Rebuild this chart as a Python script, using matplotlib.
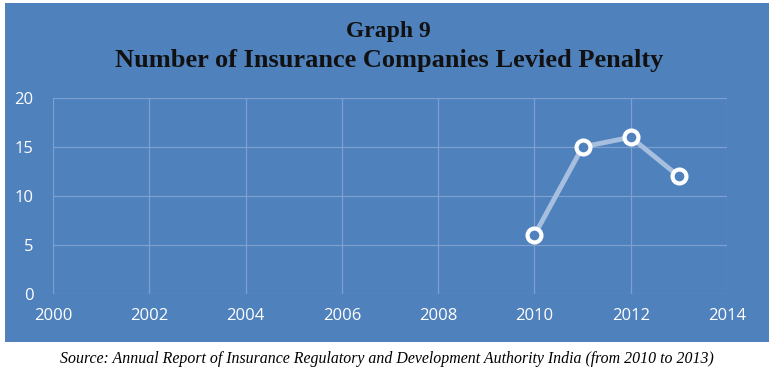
import matplotlib.pyplot as plt
from matplotlib.patches import Rectangle

years = [2010, 2011, 2012, 2013]
companies = [6, 15, 16, 12]
x_ticks = [2000, 2002, 2004, 2006, 2008, 2010, 2012, 2014]
y_ticks = [0, 5, 10, 15, 20]

blue = '#4f81bd'
W, H = 774, 376

fig = plt.figure(figsize=(W / 100, H / 100), dpi=100)
fig.patch.set_facecolor('white')

# blue chart box behind everything
box = Rectangle((5 / W, 1 - 342 / H), 764 / W, 339 / H,
                transform=fig.transFigure, facecolor=blue,
                edgecolor='none', zorder=-5)
fig.add_artist(box)

ax = fig.add_axes([53 / W, 1 - 294 / H, 674 / W, 196 / H])
ax.set_facecolor(blue)
ax.plot(years, companies, color='#a7bfdf', lw=3.5, zorder=3,
        marker='o', ms=10, mfc=blue, mec='white', mew=3, clip_on=False)

ax.set_xlim(2000, 2014)
ax.set_ylim(0, 20)
ax.set_xticks(x_ticks)
ax.set_yticks(y_ticks)
ax.grid(True, color='#7ea0cf', lw=0.9)
ax.set_axisbelow(True)
for s in ax.spines.values():
    s.set_visible(False)
ax.tick_params(length=0, colors='white', labelsize=12)
ax.tick_params(axis='y', pad=14)
ax.tick_params(axis='x', pad=10)
for lab in ax.get_xticklabels() + ax.get_yticklabels():
    lab.set_fontfamily('Open Sans')

title_kw = dict(ha='center', va='center', family='Liberation Serif',
                fontweight='bold', color='#111111')
fig.text(388 / W, 1 - 32 / H, 'Graph 9', fontsize=17, **title_kw)
fig.text(389 / W, 1 - 61 / H, 'Number of Insurance Companies Levied Penalty',
         fontsize=19, **title_kw)

fig.text(387 / W, 1 - 359 / H,
         'Source: Annual Report of Insurance Regulatory and Development Authority India (from 2010 to 2013)',
         ha='center', va='center', family='Liberation Serif', style='italic',
         fontsize=11.4, color='black')

fig.savefig('out.png', dpi=100)
